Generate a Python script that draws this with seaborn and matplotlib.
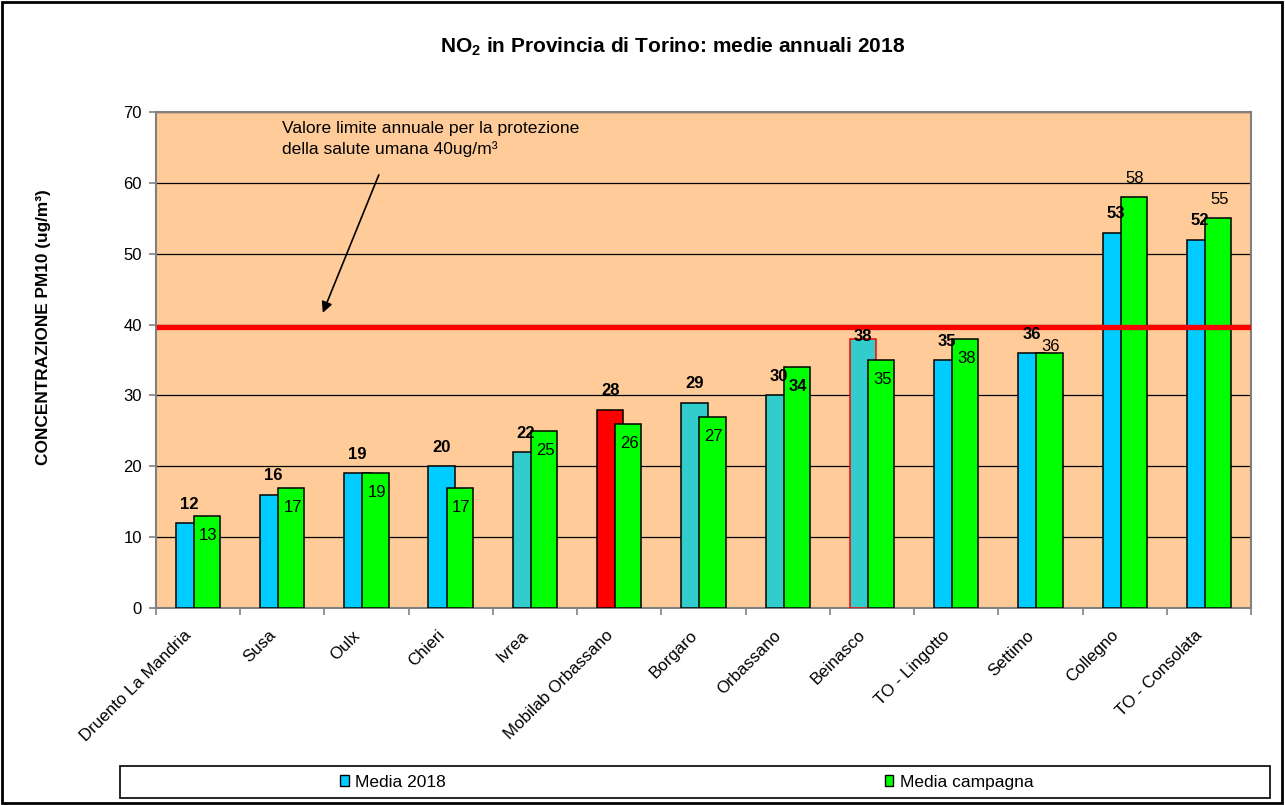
import numpy as np
import pandas as pd
import matplotlib
matplotlib.use("Agg")
import matplotlib.pyplot as plt
from matplotlib.patches import Rectangle, Patch
import seaborn as sns

# ---- data ----
stations = ["Druento La Mandria", "Susa", "Oulx", "Chieri", "Ivrea",
            "Mobilab Orbassano", "Borgaro", "Orbassano", "Beinasco",
            "TO - Lingotto", "Settimo", "Collegno", "TO - Consolata"]
media_2018 = [12, 16, 19, 20, 22, 28, 29, 30, 38, 35, 36, 53, 52]
media_campagna = [13, 17, 19, 17, 25, 26, 27, 34, 35, 38, 36, 58, 55]
limit_value = 39.7
series_names = ["Media 2018", "Media campagna"]

# ---- styles ----
BLUE = "#00CCFF"
TEAL = "#33CCCC"
RED = "#FF0000"
GREEN = "#00FF00"
BG = "#FFCC99"
blue_colors = [BLUE, BLUE, BLUE, BLUE, TEAL, RED, TEAL, TEAL, TEAL, BLUE, BLUE, BLUE, BLUE]
blue_edges = ["black"] * 8 + [RED] + ["black"] * 4
blue_label_off = [13.5] * 8 + [1.5] + [13.5] * 4
green_label_off = [-14] * 10 + [5, 13.5, 13.5]
green_label_bold = [False] * 7 + [True] + [False] * 5

plt.rcParams['font.family'] = ['Liberation Sans', 'DejaVu Sans']
plt.rcParams['mathtext.fontset'] = 'custom'
plt.rcParams['mathtext.rm'] = 'Liberation Sans'
plt.rcParams['mathtext.bf'] = 'Liberation Sans:bold'

fig = plt.figure(figsize=(12.85, 8.05), dpi=100)
ax = fig.add_axes([0.1212, 0.2447, 0.8524, 0.6161])
ax.set_facecolor(BG)

bar_w = 0.312
off = 0.107
label_shift = 0.166
idx = np.arange(len(stations))
df = pd.DataFrame({"pos_a": idx - off, "pos_b": idx + off,
                   "m2018": media_2018, "mcamp": media_campagna})

sns.barplot(data=df, x="pos_a", y="m2018", native_scale=True, width=bar_w,
            color=BLUE, saturation=1, edgecolor="black", linewidth=1.1, ax=ax, zorder=3)
n_a = len(ax.patches)
for p, fc, ec in zip(ax.patches[:n_a], blue_colors, blue_edges):
    p.set_facecolor(fc)
    p.set_edgecolor(ec)
sns.barplot(data=df, x="pos_b", y="mcamp", native_scale=True, width=bar_w,
            color=GREEN, saturation=1, edgecolor="black", linewidth=1.1, ax=ax, zorder=4)

# limit line
ax.axhline(limit_value, xmin=0.003, xmax=0.997, color=RED, lw=3.8, zorder=5)

# labels
for i in idx:
    ax.annotate(str(media_2018[i]), xy=(i - off, media_2018[i]),
                xytext=(0, blue_label_off[i]), textcoords="offset points",
                ha="center", va="center", fontsize=12, fontweight="bold", zorder=6)
    ax.annotate(str(media_campagna[i]), xy=(i + off, media_campagna[i]),
                xytext=(1, green_label_off[i]), textcoords="offset points",
                ha="center", va="center", fontsize=12,
                fontweight="bold" if green_label_bold[i] else "normal", zorder=6)

# annotation
ax.text(1.0, 68.7, "Valore limite annuale per la protezione\ndella salute umana 40ug/m³",
        ha="left", va="top", fontsize=12.6, linespacing=1.4, zorder=6)
ax.annotate("", xy=(1.47, 41.3), xytext=(2.16, 61.5),
            arrowprops=dict(arrowstyle="-|>", color="black", lw=1.2, mutation_scale=16),
            zorder=6)

# axes
ax.set_xlim(-0.5, len(stations) - 0.5)
ax.set_ylim(0, 70)
ax.set_yticks(np.arange(0, 71, 10))
ax.yaxis.grid(True, color="black", lw=0.9, zorder=1)
ax.set_axisbelow(True)
ax.set_xticks(idx - label_shift)
ax.set_xticklabels(stations, rotation=45, ha="right", rotation_mode="anchor", fontsize=12.2)
ax.set_xticks(np.arange(-0.5, len(stations), 1), minor=True)
ax.tick_params(axis="x", which="major", length=0, pad=14)
ax.tick_params(axis="x", which="minor", length=5, color="#808080", width=1.2)
ax.tick_params(axis="y", length=5, color="#808080", width=1.2, labelsize=12, pad=5)
ax.set_xlabel("")
ax.set_ylabel("")
for s in ax.spines.values():
    s.set_color("#808080")
    s.set_linewidth(1.5)

# title & y label
fig.text(0.5233, 0.9416, r"NO$_{\mathbf{2}}$ in Provincia di Torino: medie annuali 2018",
         ha="center", va="center", fontsize=15, fontweight="bold")
fig.text(0.0335, 0.5938, "CONCENTRAZIONE PM10 (ug/m³)", rotation=90,
         ha="center", va="center", fontsize=12.4, fontweight="bold")

# legend
handles = [Patch(facecolor=BLUE, edgecolor="black", lw=1),
           Patch(facecolor=GREEN, edgecolor="black", lw=1)]
fig.legend(handles, series_names, loc="center left",
           bbox_to_anchor=(340 / 1285, 1 - 782 / 805), ncol=2, frameon=False,
           fontsize=12.5, handlelength=0.5, handleheight=0.55, handletextpad=0.35,
           columnspacing=25.3, borderpad=0, borderaxespad=0)
fig.add_artist(Rectangle((120 / 1285, 1 - 798 / 805), 1150 / 1285, 32 / 805,
                         transform=fig.transFigure, fill=False, ec="black", lw=1.2))
fig.add_artist(Rectangle((0.0015, 0.002), 0.996, 0.996,
                         transform=fig.transFigure, fill=False, ec="black", lw=2))

fig.savefig("out.png", dpi=100)
